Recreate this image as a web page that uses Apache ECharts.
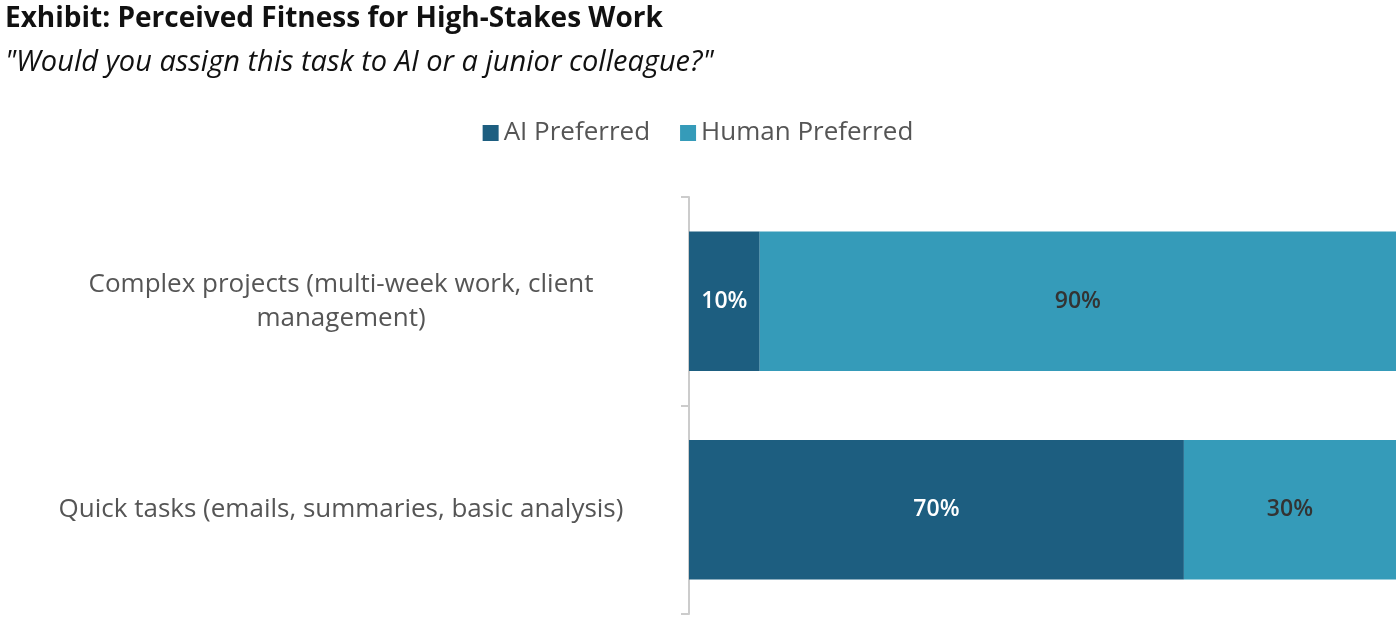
<!DOCTYPE html>
<html>
<head>
<meta charset="utf-8">
<script src="https://cdn.jsdelivr.net/npm/echarts@6/dist/echarts.min.js"></script>
<style>
  html, body { margin: 0; padding: 0; background: #fff; }
  #chart { width: 1396px; height: 618px; }
</style>
</head>
<body>
<div id="chart"></div>
<script>
// data
var categories = ['Complex projects (multi-week work, client\nmanagement)', 'Quick tasks (emails, summaries, basic analysis)'];
var aiPreferred = [10, 70];
var humanPreferred = [90, 30];

var myChart = echarts.init(document.getElementById('chart'));
var font = '"Open Sans", Lato, sans-serif';

var option = {
    animation: false,
    textStyle: { fontFamily: font },
    title: [{
        text: 'Exhibit: Perceived Fitness for High-Stakes Work',
        left: 0, top: 0,
        textStyle: { fontSize: 28, fontWeight: 'bold', color: '#111', fontFamily: font }
    }, {
        text: '"Would you assign this task to AI or a junior colleague?"',
        left: 0, top: 43,
        textStyle: { fontSize: 29, fontStyle: 'italic', fontWeight: 'normal', color: '#111', fontFamily: font }
    }],
    legend: {
        top: 115, left: 'center',
        itemWidth: 16, itemHeight: 16, itemGap: 30,
        icon: 'rect',
        textStyle: { fontSize: 26, color: '#555', fontFamily: font },
        data: ['AI Preferred', 'Human Preferred']
    },
    color: ['#1D5E80', '#359BB9'],
    grid: { left: 689, right: 0, top: 197, bottom: 4, containLabel: false },
    xAxis: { type: 'value', min: 0, max: 100, show: false },
    yAxis: {
        type: 'category',
        inverse: true,
        data: categories,
        axisLine: { show: true, lineStyle: { color: '#ccc', width: 2 } },
        axisTick: { show: true, length: 8, lineStyle: { color: '#ccc', width: 2 } },
        axisLabel: { fontSize: 26, color: '#555', align: 'center', margin: 348, lineHeight: 34, fontFamily: font }
    },
    series: [{
        name: 'AI Preferred', type: 'bar', stack: 'a', barWidth: '67%',
        data: aiPreferred,
        label: { show: true, formatter: '{c}%', color: '#fff', fontSize: 23, fontWeight: 600, fontFamily: font }
    }, {
        name: 'Human Preferred', type: 'bar', stack: 'a', barWidth: '67%',
        data: humanPreferred,
        label: { show: true, formatter: '{c}%', color: '#333', fontSize: 23, fontWeight: 600, fontFamily: font }
    }]
};
myChart.setOption(option);
</script>
</body>
</html>
